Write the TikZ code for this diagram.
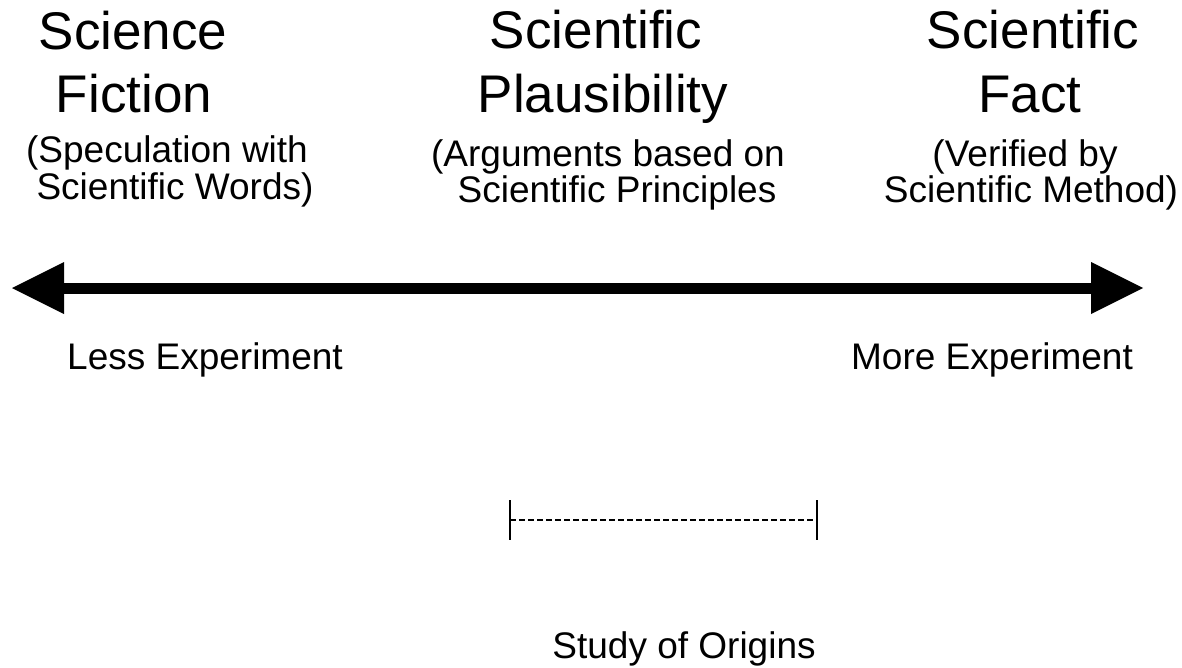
\documentclass[tikz,border=0pt]{standalone}
\usepackage{fontspec}
\setmainfont{Liberation Sans}
\usetikzlibrary{arrows.meta}
\tikzset{
  title/.style={anchor=base, inner sep=0pt, font=\fontsize{53}{63}\selectfont},
  sub/.style={anchor=base, inner sep=0pt, font=\fontsize{37}{40}\selectfont},
  axis/.style={line width=11pt, {Triangle[length=52pt,width=52pt,line width=0pt]}-{Triangle[length=52pt,width=52pt,line width=0pt]}},
  span/.style={line width=2.6pt, dash pattern=on 6pt off 3pt},
  endbar/.style={line width=2.8pt}
}
\begin{document}
\begin{tikzpicture}[x=1pt,y=-1pt]
\useasboundingbox (0,0) rectangle (1182,668);
% left column
\node[title] (t1a) at (133,50) {Science};
\node[title] (t1b) at (134,113) {Fiction};
\node[sub] (s1a) at (167,163) {(Speculation with};
\node[sub] (s1b) at (175,200) {Scientific Words)};
% middle column
\node[title] (t2a) at (596,49) {Scientific};
\node[title] (t2b) at (603,113) {Plausibility};
\node[sub] (s2a) at (608,167) {(Arguments based on};
\node[sub] (s2b) at (617,203) {Scientific Principles};
% right column
\node[title] (t3a) at (1033,49) {Scientific};
\node[title] (t3b) at (1030,113) {Fact};
\node[sub] (s3a) at (1025,167) {(Verified by};
\node[sub] (s3b) at (1031,203) {Scientific Method)};
% axis
\coordinate (L) at (12,288);
\coordinate (R) at (1143,288);
\draw[axis] (L) -- (R);
\node[sub] (less) at (205,369) {Less Experiment};
\node[sub] (more) at (992,369) {More Experiment};
% span
\coordinate (aT) at (510,500);
\coordinate (aB) at (510,540);
\coordinate (bT) at (817,500);
\coordinate (bB) at (817,540);
\coordinate (a) at (510,520);
\coordinate (b) at (817,520);
\draw[endbar] (aT) -- (aB);
\draw[endbar] (bT) -- (bB);
\draw[span] (a) -- (b);
\node[sub] (origins) at (684,658) {Study of Origins};
\end{tikzpicture}
\end{document}
